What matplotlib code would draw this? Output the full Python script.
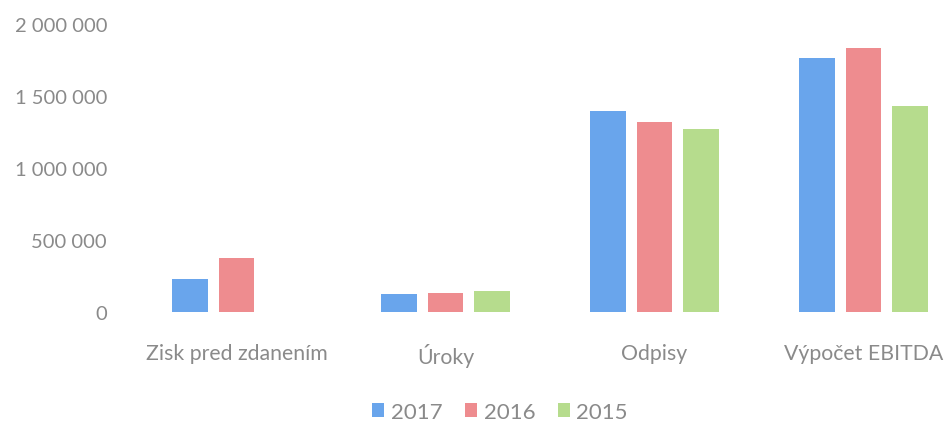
import matplotlib
matplotlib.use("Agg")
import matplotlib.pyplot as plt
import numpy as np

categories = ["Zisk pred zdanením", "Úroky", "Odpisy", "Výpočet EBITDA"]
series_names = ["2017", "2016", "2015"]
values_2017 = [229000, 125000, 1394000, 1762000]
values_2016 = [375000, 132000, 1317000, 1831000]
values_2015 = [0, 146000, 1271000, 1431000]
yticks = [0, 500000, 1000000, 1500000, 2000000]
ytick_labels = ["0", "500 000", "1 000 000", "1 500 000", "2 000 000"]

colors = ["#69A5EC", "#EE8C8F", "#B6DC8D"]
plt.rcParams['font.family'] = ['Lato', 'DejaVu Sans']
text_color = "#8A8A8A"

W, H = 947, 427
fig = plt.figure(figsize=(W / 100, H / 100), dpi=100)
left = 132 / W
right = 968 / W
bottom = (H - 313) / H
top = (H - 25) / H
ax = fig.add_axes([left, bottom, right - left, top - bottom])

x = np.arange(len(categories))
offset = 0.224
width = 0.172
all_vals = [values_2017, values_2016, values_2015]
handles = []
for i, (vals, c) in enumerate(zip(all_vals, colors)):
    b = ax.bar(x + (i - 1) * offset, vals, width, color=c, label=series_names[i])
    handles.append(b)

ax.set_xlim(-0.5, 3.5)
ax.set_ylim(0, 2000000)
ax.set_yticks(yticks)
ax.set_yticklabels(ytick_labels)
ax.set_xticks(x)
ax.set_xticklabels(categories)
for s in ax.spines.values():
    s.set_visible(False)
ax.tick_params(axis='y', length=0, pad=18, labelsize=14.5, labelcolor=text_color)
ax.tick_params(axis='x', length=0, pad=22, labelsize=15.3, labelcolor=text_color)

leg = fig.legend(handles=handles, labels=series_names, loc='center',
                 bbox_to_anchor=(500 / W, 1 - 413 / H), ncol=3, frameon=False,
                 handlelength=0.55, handleheight=0.55, handletextpad=0.3,
                 columnspacing=1.0, prop={'size': 16})
for t in leg.get_texts():
    t.set_color(text_color)

fig.savefig("out.png", dpi=100)
